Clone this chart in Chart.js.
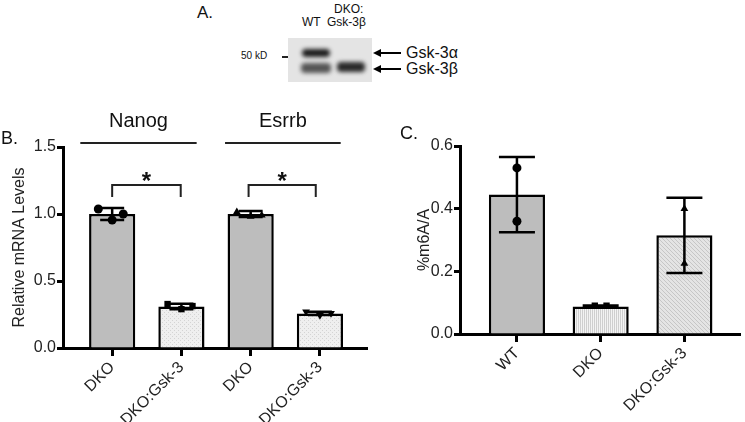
<!DOCTYPE html>
<html>
<head>
<meta charset="utf-8">
<script src="https://cdn.jsdelivr.net/npm/chart.js@4.4.1/dist/chart.umd.min.js"></script>
<style>
  body { margin:0; width:745px; height:422px; background:#fff; position:relative; overflow:hidden;
         font-family:"Liberation Sans", Arial, sans-serif; }
  canvas { position:absolute; top:0; }
  #chartB { left:0; }
  #chartC { left:380px; }
  .t { position:absolute; white-space:nowrap; color:#111; line-height:1; }
  .blot { position:absolute; left:288px; top:38px; width:84px; height:44px; background:#e4e4e4; }
  .band { position:absolute; background:#1c1c1c; border-radius:4px; filter:blur(2.2px); }
</style>
</head>
<body>
<!-- panel A: blot, drawn as plain markup -->
<div class="t" style="left:197px;top:4px;font-size:17px;">A.</div>
<div class="t" style="left:302px;top:16px;font-size:12px;">WT</div>
<div class="t" style="left:334px;top:3px;font-size:12px;">DKO:</div>
<div class="t" style="left:327px;top:16px;font-size:12px;">Gsk-3β</div>
<div class="t" style="left:241px;top:51px;font-size:10px;">50 kD</div>
<div class="t" style="left:282px;top:56px;width:6px;height:2px;background:#222;"></div>
<div class="blot">
  <div class="band" style="left:14px;top:11px;width:28px;height:8px;"></div>
  <div class="band" style="left:13px;top:25px;width:30px;height:10px;background:#555;"></div>
  <div class="band" style="left:49px;top:24px;width:28px;height:10px;background:#2a2a2a;"></div>
</div>
<svg style="position:absolute;left:370px;top:44px" width="34" height="32">
  <g stroke="#000" stroke-width="2" fill="#000">
    <line x1="8" y1="9" x2="31" y2="9"/><polygon points="3,9 11,5 11,13" stroke="none"/>
    <line x1="8" y1="25" x2="31" y2="25"/><polygon points="3,25 11,21 11,29" stroke="none"/>
  </g>
</svg>
<div class="t" style="left:406px;top:45px;font-size:16px;">Gsk-3α</div>
<div class="t" style="left:406px;top:61px;font-size:16px;">Gsk-3β</div>

<canvas id="chartB" width="380" height="422"></canvas>
<canvas id="chartC" width="365" height="422"></canvas>

<script>
(function() {
  "use strict";

  // Panel B: relative mRNA levels
  var bLabels = ['DKO', 'DKO:Gsk-3', 'DKO', 'DKO:Gsk-3'];
  var bGroups = ['Nanog', 'Esrrb'];
  var bMeans = [1.0, 0.31, 1.0, 0.258];
  var bSD = [0.045, 0.02, 0.022, 0.012];
  var nanogDko = [1.037, 0.955, 1.0];
  var nanogGsk = [0.328, 0.29, 0.313];
  var esrrbDko = [1.015, 0.982, 0.99];
  var esrrbGsk = [0.27, 0.245, 0.26];

  // Panel C: %m6A/A
  var cLabels = ['WT', 'DKO', 'DKO:Gsk-3'];
  var cMeans = [0.445, 0.088, 0.315];
  var cSD = [0.12, 0.003, 0.12];
  var wtPts = [0.53, 0.36];
  var dkoPts = [0.09, 0.09];
  var gskPts = [0.40, 0.225];

  var FONT = '"Liberation Sans", Arial, sans-serif';
  var INK = '#222';

  function makePattern(base, ink, kind) {
    var c = document.createElement('canvas');
    c.width = 4; c.height = 4;
    var g = c.getContext('2d');
    g.fillStyle = base; g.fillRect(0, 0, 4, 4);
    g.fillStyle = ink;
    if (kind === 'dots') { g.fillRect(0, 0, 1, 1); g.fillRect(2, 2, 1, 1); }
    if (kind === 'vlines') { g.fillRect(0, 0, 1, 4); g.fillRect(2, 0, 1, 4); }
    if (kind === 'diag') { for (var i = 0; i < 4; i++) g.fillRect(i, i, 1, 1); }
    return g.createPattern(c, 'repeat');
  }

  var darkGray = '#bdbdbd';
  var dotted = makePattern('#efefef', '#d4d4d4', 'dots');
  var striped = makePattern('#f3f3f3', '#cfcfcf', 'vlines');
  var hatched = makePattern('#e4e4e4', '#c6c6c6', 'diag');

  // mean +/- SD whiskers, drawn right after the bars
  var errorBars = {
    id: 'errorBars',
    afterDatasetDraw: function(chart, args) {
      var ds = chart.data.datasets[args.index];
      if (!ds.errors) return;
      var ctx = chart.ctx, xs = chart.scales.x, ys = chart.scales.y;
      ctx.save();
      ctx.strokeStyle = '#000';
      ctx.lineWidth = 2.5;
      ds.data.forEach(function(d, i) {
        var px = xs.getPixelForValue(d.x);
        var top = ys.getPixelForValue(d.y + ds.errors[i]);
        var bot = ys.getPixelForValue(d.y - ds.errors[i]);
        var w = ds.capWidth;
        ctx.beginPath();
        ctx.moveTo(px, top); ctx.lineTo(px, bot);
        ctx.moveTo(px - w, top); ctx.lineTo(px + w, top);
        ctx.moveTo(px - w, bot); ctx.lineTo(px + w, bot);
        ctx.stroke();
      });
      ctx.restore();
    }
  };

  function pts(values, center, offsets) {
    return values.map(function(v, i) { return { x: center + offsets[i], y: v }; });
  }

  function fixedTicks(labels) {
    return function(axis) {
      axis.ticks = labels.map(function(_, i) { return { value: i }; });
    };
  }

  function yAxis(max, step, width, title, titlePad) {
    return {
      min: 0, max: max,
      afterFit: function(s) { s.width = width; s.paddingTop = 0; s.paddingBottom = 0; },
      border: { display: true, color: '#000', width: 3 },
      grid: { drawOnChartArea: false, drawTicks: true, tickLength: 6, tickWidth: 3, tickColor: '#000' },
      ticks: { stepSize: step, padding: 1, color: INK, font: { family: FONT, size: 16 },
               callback: function(v) { return v.toFixed(1); } },
      title: { display: true, text: title, color: INK, font: { family: FONT, size: 16 },
               padding: { top: titlePad, bottom: 0 } }
    };
  }

  // linear x so the outer gaps can be wider than a category slot
  function xAxis(labels, min, max, height) {
    return {
      type: 'linear', min: min, max: max, offset: false,
      afterBuildTicks: fixedTicks(labels),
      afterFit: function(s) { s.height = height; s.paddingLeft = 0; s.paddingRight = 0; },
      border: { display: true, color: '#000', width: 3 },
      grid: { offset: false, drawOnChartArea: false, drawTicks: true, tickLength: 8, tickWidth: 3, tickColor: '#000' },
      ticks: { autoSkip: false, maxRotation: 45, minRotation: 45, padding: 2, color: INK,
               font: { family: FONT, size: 16 },
               callback: function(v) { return labels[v]; } }
    };
  }

  // B: group headings, significance brackets, panel letter
  var bDecor = {
    id: 'bDecor',
    afterDraw: function(chart) {
      var ctx = chart.ctx, xs = chart.scales.x, ys = chart.scales.y;
      ctx.save();
      ctx.fillStyle = '#111';
      ctx.strokeStyle = '#222';
      ctx.lineWidth = 2;
      var spans = [[-0.46, 1.22], [1.63, 3.3]];
      ctx.font = '20px ' + FONT;
      ctx.textAlign = 'center';
      spans.forEach(function(s, i) {
        var y = ys.getPixelForValue(1.53);
        ctx.beginPath();
        ctx.moveTo(xs.getPixelForValue(s[0]), y);
        ctx.lineTo(xs.getPixelForValue(s[1]), y);
        ctx.stroke();
        ctx.fillText(bGroups[i], xs.getPixelForValue((s[0] + s[1]) / 2), ys.getPixelForValue(1.65));
      });
      var brackets = [[0, 0.99], [1.97, 2.94]];
      ctx.font = 'bold 24px ' + FONT;
      brackets.forEach(function(b) {
        var top = ys.getPixelForValue(1.216), end = ys.getPixelForValue(1.127);
        var x1 = xs.getPixelForValue(b[0]), x2 = xs.getPixelForValue(b[1]);
        ctx.beginPath();
        ctx.moveTo(x1, end); ctx.lineTo(x1, top); ctx.lineTo(x2, top); ctx.lineTo(x2, end);
        ctx.stroke();
        ctx.fillText('*', (x1 + x2) / 2, top + 4);
      });
      ctx.font = '18px ' + FONT;
      ctx.textAlign = 'left';
      ctx.fillText('B.', 1, 144);
      ctx.restore();
    }
  };

  var cDecor = {
    id: 'cDecor',
    afterDraw: function(chart) {
      var ctx = chart.ctx;
      ctx.save();
      ctx.fillStyle = '#111';
      ctx.font = '18px ' + FONT;
      ctx.fillText('C.', 20, 139);
      ctx.restore();
    }
  };

  var jitter3 = [-0.2, 0, 0.16];

  new Chart(document.getElementById('chartB').getContext('2d'), {
    type: 'bar',
    data: {
      datasets: [
        {
          type: 'scatter',
          order: 0,
          data: pts(nanogDko, 0, jitter3)
            .concat(pts(nanogGsk, 1, jitter3))
            .concat(pts(esrrbDko, 2, jitter3))
            .concat(pts(esrrbGsk, 3, jitter3)),
          pointStyle: ['circle', 'circle', 'circle', 'rect', 'rect', 'rect',
                       'triangle', 'triangle', 'triangle', 'triangle', 'triangle', 'triangle'],
          rotation: [0, 0, 0, 0, 0, 0, 0, 0, 0, 180, 180, 180],
          radius: 4.5,
          backgroundColor: '#000',
          borderColor: '#000',
          borderWidth: 0
        },
        {
          order: 1,
          data: bMeans.map(function(v, i) { return { x: i, y: v }; }),
          backgroundColor: [darkGray, dotted, darkGray, dotted],
          borderColor: '#000',
          borderWidth: 2.5,
          barPercentage: 0.667,
          categoryPercentage: 1,
          errors: bSD,
          capWidth: 12
        }
      ]
    },
    options: {
      responsive: false,
      animation: false,
      layout: { padding: { top: 147, right: 13, left: 0, bottom: 0 } },
      plugins: { legend: { display: false }, tooltip: { enabled: false } },
      scales: {
        x: xAxis(bLabels, -0.71, 3.68, 74),
        y: yAxis(1.5, 0.5, 63, 'Relative mRNA Levels', 10)
      }
    },
    plugins: [errorBars, bDecor]
  });

  new Chart(document.getElementById('chartC').getContext('2d'), {
    type: 'bar',
    data: {
      datasets: [
        {
          type: 'scatter',
          order: 0,
          data: pts(wtPts, 0, [0, 0])
            .concat(pts(dkoPts, 1, [-0.07, 0.07]))
            .concat(pts(gskPts, 2, [0, 0])),
          pointStyle: ['circle', 'circle', 'rect', 'rect', 'triangle', 'triangle'],
          radius: 4.5,
          backgroundColor: '#000',
          borderColor: '#000',
          borderWidth: 0
        },
        {
          order: 1,
          data: cMeans.map(function(v, i) { return { x: i, y: v }; }),
          backgroundColor: [darkGray, striped, hatched],
          borderColor: '#000',
          borderWidth: 2.5,
          barPercentage: 0.67,
          categoryPercentage: 1,
          errors: cSD,
          capWidth: 18
        }
      ]
    },
    options: {
      responsive: false,
      animation: false,
      layout: { padding: { top: 146, right: 0, left: 0, bottom: 0 } },
      plugins: { legend: { display: false }, tooltip: { enabled: false } },
      scales: {
        x: xAxis(cLabels, -0.68, 2.67, 88),
        y: yAxis(0.6, 0.2, 80, '%m6A/A', 35)
      }
    },
    plugins: [errorBars, cDecor]
  });

})();
</script>
</body>
</html>
